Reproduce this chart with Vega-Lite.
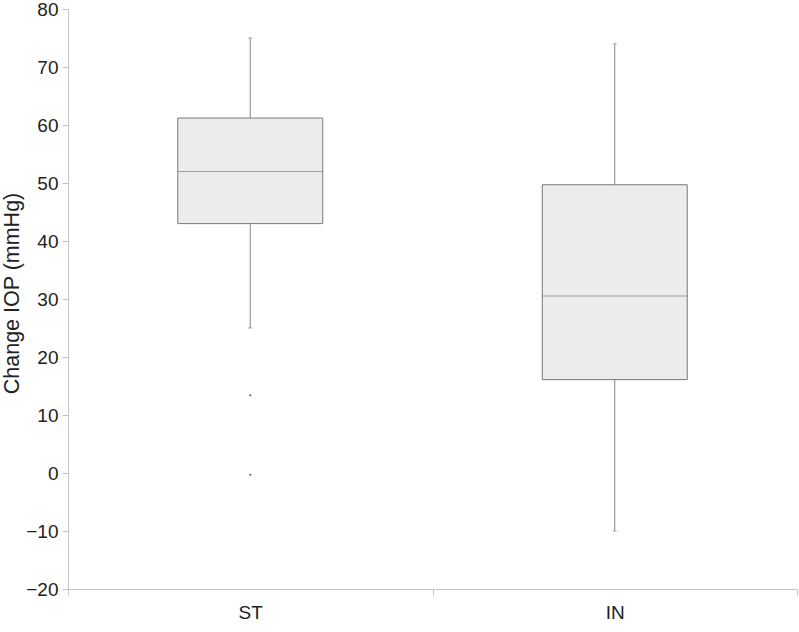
{
  "$schema": "https://vega.github.io/schema/vega-lite/v6.json",
  "width": 729,
  "height": 580,
  "autosize": {"type": "none"},
  "padding": {"left": 68, "top": 9, "right": 2, "bottom": 43},
  "background": "white",
  "config": {
    "view": {"stroke": null},
    "font": "Liberation Sans",
    "axis": {
      "grid": false,
      "domainColor": "#c4c4c4",
      "tickColor": "#c4c4c4",
      "labelColor": "#222222",
      "titleColor": "#222222",
      "labelFontSize": 19,
      "titleFontSize": 21.5,
      "titleFontWeight": "normal"
    }
  },
  "datasets": {
    "stats": [
      {"group": "ST", "lo": 25, "q1": 43, "median": 52, "q3": 61.2, "hi": 75},
      {"group": "IN", "lo": -10, "q1": 16.1, "median": 30.5, "q3": 49.7, "hi": 74}
    ],
    "outliers": [
      {"group": "ST", "value": 13.4},
      {"group": "ST", "value": -0.3}
    ]
  },
  "encoding": {
    "x": {
      "field": "group",
      "type": "nominal",
      "sort": ["ST", "IN"],
      "scale": {"paddingInner": 0, "paddingOuter": 0},
      "axis": {
        "title": null,
        "labelAngle": 0,
        "tickBand": "extent",
        "tickSize": 6,
        "labelPadding": 8
      }
    }
  },
  "layer": [
    {
      "data": {"name": "stats"},
      "mark": {"type": "rule", "color": "#858585", "strokeWidth": 1},
      "encoding": {
        "y": {
          "field": "lo",
          "type": "quantitative",
          "scale": {"domain": [-20, 80], "nice": false},
          "axis": {
            "title": "Change IOP (mmHg)",
            "values": [-20, -10, 0, 10, 20, 30, 40, 50, 60, 70, 80],
            "tickSize": 6,
            "labelPadding": 4,
            "titlePadding": 2,
            "titleY": 284
          }
        },
        "y2": {"field": "hi"}
      }
    },
    {
      "data": {"name": "stats"},
      "mark": {"type": "bar", "size": 145, "fill": "#ececec", "stroke": "#7a7a7a", "strokeWidth": 1},
      "encoding": {
        "y": {"field": "q1", "type": "quantitative"},
        "y2": {"field": "q3"}
      }
    },
    {
      "data": {"name": "stats"},
      "mark": {"type": "tick", "size": 145, "thickness": 1, "color": "#7a7a7a"},
      "encoding": {
        "y": {"field": "median", "type": "quantitative"}
      }
    },
    {
      "data": {"name": "stats"},
      "mark": {"type": "tick", "size": 4, "thickness": 1, "color": "#858585"},
      "encoding": {
        "y": {"field": "lo", "type": "quantitative"}
      }
    },
    {
      "data": {"name": "stats"},
      "mark": {"type": "tick", "size": 4, "thickness": 1, "color": "#858585"},
      "encoding": {
        "y": {"field": "hi", "type": "quantitative"}
      }
    },
    {
      "data": {"name": "outliers"},
      "mark": {"type": "square", "size": 3, "color": "#555555", "opacity": 1},
      "encoding": {
        "y": {"field": "value", "type": "quantitative"}
      }
    }
  ]
}
